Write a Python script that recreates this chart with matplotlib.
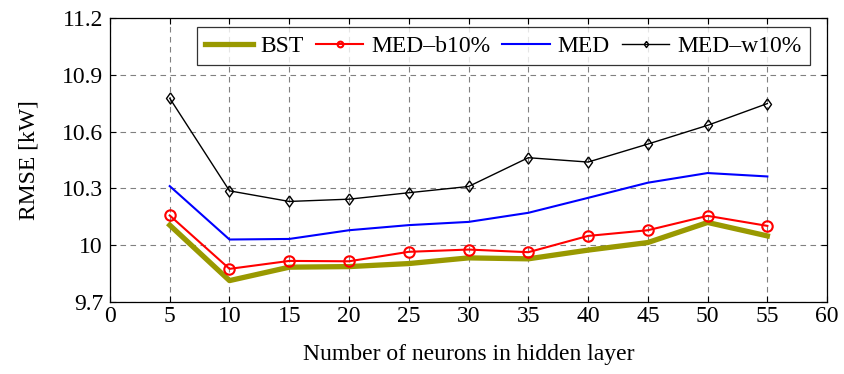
import matplotlib.pyplot as plt

# neurons in hidden layer
neurons = [5, 10, 15, 20, 25, 30, 35, 40, 45, 50, 55]

bst = [10.106, 9.813, 9.884, 9.887, 9.903, 9.933, 9.928, 9.974, 10.014, 10.120, 10.049]
med_b10 = [10.157, 9.875, 9.917, 9.915, 9.965, 9.977, 9.963, 10.049, 10.079, 10.155, 10.102]
med = [10.312, 10.030, 10.033, 10.079, 10.106, 10.123, 10.171, 10.250, 10.330, 10.381, 10.363]
med_w10 = [10.776, 10.287, 10.231, 10.243, 10.277, 10.310, 10.462, 10.439, 10.534, 10.633, 10.748]

xticks = list(range(0, 61, 5))
yticks = [9.7, 10.0, 10.3, 10.6, 10.9, 11.2]
ytick_labels = ["9.7", "10", "10.3", "10.6", "10.9", "11.2"]

plt.rcParams['font.family'] = ['Liberation Serif', 'DejaVu Serif']

fig = plt.figure(figsize=(8.44, 3.74), dpi=100)
ax = fig.add_axes([0.1303, 0.1925, 0.8497, 0.7595])

# pgfplots-like diamond (taller than wide)
diamond = [(0, 1), (0.72, 0), (0, -1), (-0.72, 0), (0, 1)]

ax.plot(neurons, bst, color=(0.6, 0.6, 0.0), lw=3.8, label="BST", zorder=3)
ax.plot(neurons, med_b10, color="red", lw=1.5, marker="o", ms=7.5, mfc="none",
        mec="red", mew=1.5, label="MED\u2013b10%", zorder=4)
ax.plot(neurons, med, color="blue", lw=1.5, label="MED", zorder=3)
ax.plot(neurons, med_w10, color="black", lw=1.0, marker=diamond, ms=8, mfc="none",
        mec="black", mew=1.0, label="MED\u2013w10%", zorder=4)

ax.set_xlim(0, 60)
ax.set_ylim(9.7, 11.2)
ax.set_xticks(xticks)
ax.set_yticks(yticks)
ax.set_yticklabels(ytick_labels)
ax.tick_params(axis="both", direction="in", top=True, right=True, labelsize=17, length=4)
ax.tick_params(axis="x", pad=3)
ax.tick_params(axis="y", pad=5)
ax.grid(True, color="gray", linestyle=(0, (5, 4)), lw=0.8)

for s in ax.spines.values():
    s.set_linewidth(0.9)

ax.set_xlabel("Number of neurons in hidden layer", fontsize=17, labelpad=12)
ax.set_ylabel("RMSE [kW]", fontsize=17, labelpad=16)

leg = ax.legend(loc="upper right", bbox_to_anchor=(0.976, 0.968), ncol=4, fontsize=17,
                frameon=True, fancybox=False, edgecolor="black", handlelength=2.0,
                handletextpad=0.35, columnspacing=0.5, borderpad=0.35, markerscale=0.55,
                borderaxespad=0)
leg.get_frame().set_linewidth(0.9)

fig.savefig("out.png", dpi=100)
